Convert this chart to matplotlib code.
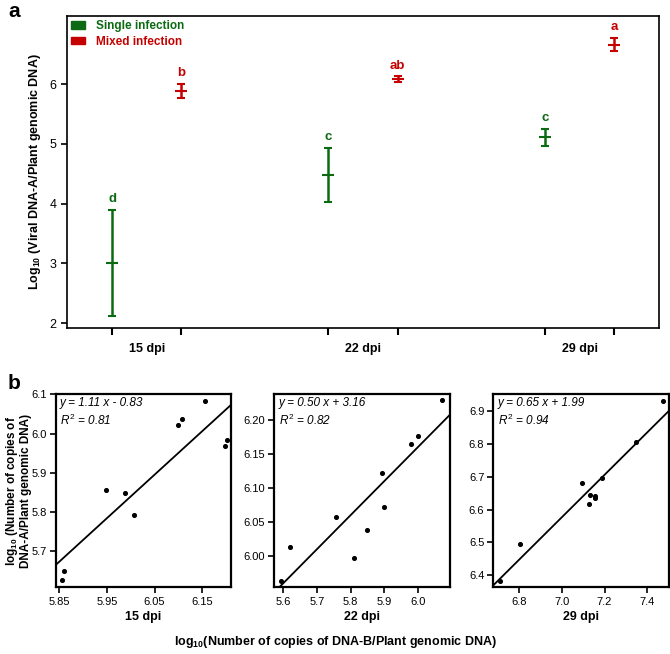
import numpy as np
import matplotlib.pyplot as plt
from matplotlib.patches import Patch

plt.rcParams['font.family'] = ['Liberation Sans', 'DejaVu Sans']
plt.rcParams['mathtext.fontset'] = 'custom'
plt.rcParams['mathtext.rm'] = 'Liberation Sans'
plt.rcParams['mathtext.it'] = 'Liberation Sans:italic'
plt.rcParams['mathtext.bf'] = 'Liberation Sans:bold'

# ---- panel a data ----
days = ['15 dpi', '22 dpi', '29 dpi']
single_mean = [3.00, 4.48, 5.11]
single_low = [2.11, 4.03, 4.97]
single_high = [3.89, 4.93, 5.25]
single_letters = ['d', 'c', 'c']
mixed_mean = [5.89, 6.08, 6.66]
mixed_low = [5.77, 6.03, 6.55]
mixed_high = [6.00, 6.13, 6.77]
mixed_letters = ['b', 'ab', 'a']

# ---- panel b data ----
b15_x = [5.856, 5.861, 5.948, 5.989, 6.006, 6.098, 6.108, 6.155, 6.197, 6.202]
b15_y = [5.628, 5.649, 5.857, 5.848, 5.792, 6.021, 6.037, 6.082, 5.968, 5.983]
b22_x = [5.593, 5.621, 5.756, 5.810, 5.848, 5.892, 5.898, 5.978, 6.000, 6.072]
b22_y = [5.963, 6.013, 6.057, 5.997, 6.038, 6.121, 6.072, 6.165, 6.176, 6.229]
b29_x = [6.708, 6.802, 7.093, 7.127, 7.134, 7.154, 7.154, 7.188, 7.345, 7.475]
b29_y = [6.383, 6.496, 6.681, 6.618, 6.643, 6.641, 6.636, 6.696, 6.806, 6.931]
equations = ['y = 1.11 x - 0.83', 'y = 0.50 x + 3.16', 'y = 0.65 x + 1.99']
r2_values = ['0.81', '0.82', '0.94']

GREEN = '#0b6a12'
RED = '#c40000'

fig = plt.figure(figsize=(6.7, 6.54), dpi=100)

# ---------------- panel a ----------------
ax = fig.add_axes([0.100, 0.4985, 0.8836, 0.4770])
centers = np.array([1.0, 2.0, 3.0])
off = 0.16
xs_single = centers - off
xs_mixed = centers + off

for xs, mean, low, high, letters, col in [
        (xs_single, single_mean, single_low, single_high, single_letters, GREEN),
        (xs_mixed, mixed_mean, mixed_low, mixed_high, mixed_letters, RED)]:
    mean = np.array(mean)
    err = [mean - np.array(low), np.array(high) - mean]
    ax.errorbar(xs, mean, yerr=err, fmt='_', color=col, ecolor=col,
                elinewidth=1.8, capsize=3, capthick=1.8, markersize=9,
                markeredgewidth=1.5)
    for x, h, lab in zip(xs, high, letters):
        ax.text(x, h + 0.18, lab, color=col, ha='center', va='center',
                fontsize=9.5, fontweight='bold')

ax.set_xlim(0.632, 3.367)
ax.set_ylim(1.917, 7.14)
ax.set_yticks([2, 3, 4, 5, 6])
ax.tick_params(axis='y', labelsize=9, length=4, width=1.2, direction='out')
ax.set_xticks(np.concatenate([xs_single, xs_mixed]))
ax.set_xticklabels([])
ax.tick_params(axis='x', which='major', length=5, width=1.5, direction='out')
for i, t in enumerate(ax.xaxis.get_major_ticks()):
    t.tick1line.set_color(GREEN if i < 3 else RED)
ax.set_xticks(centers, minor=True)
ax.set_xticklabels(days, minor=True, fontsize=9, fontweight='bold')
ax.tick_params(axis='x', which='minor', length=0, pad=11)
for s in ax.spines.values():
    s.set_linewidth(1.2)
ax.set_ylabel('Log$_{\\mathbf{10}}$ (Viral DNA-A/Plant genomic DNA)',
              fontsize=9, fontweight='bold', labelpad=5)

handles = [Patch(facecolor=GREEN, edgecolor=GREEN),
           Patch(facecolor=RED, edgecolor=RED)]
leg = ax.legend(handles, ['Single infection', 'Mixed infection'],
                loc='upper left', frameon=False,
                handlelength=1.2, handleheight=0.55, handletextpad=0.9,
                labelspacing=0.3, borderaxespad=0.15, borderpad=0.2,
                labelcolor=[GREEN, RED],
                prop={'weight': 'bold', 'size': 8.5})

fig.text(0.012, 0.982, 'a', fontsize=15, fontweight='bold', va='center')

# ---------------- panel b ----------------
b_lefts = [0.0831, 0.4094, 0.7363]
b_width = 0.2617
b_bottom = 0.1017
b_height = 0.2959
b_data = [(b15_x, b15_y), (b22_x, b22_y), (b29_x, b29_y)]
b_xlims = [(5.843, 6.210), (5.573, 6.094), (6.679, 7.500)]
b_ylims = [(5.608, 6.101), (5.953, 6.238), (6.362, 6.953)]
b_xticks = [[5.85, 5.95, 6.05, 6.15], [5.6, 5.7, 5.8, 5.9, 6.0],
            [6.8, 7.0, 7.2, 7.4]]
b_yticks = [[5.7, 5.8, 5.9, 6.0, 6.1], [6.00, 6.05, 6.10, 6.15, 6.20],
            [6.4, 6.5, 6.6, 6.7, 6.8, 6.9]]
b_xfmt = ['{:.2f}', '{:.1f}', '{:.1f}']
b_yfmt = ['{:.1f}', '{:.2f}', '{:.1f}']

for i in range(3):
    bx = fig.add_axes([b_lefts[i], b_bottom, b_width, b_height])
    x = np.array(b_data[i][0])
    y = np.array(b_data[i][1])
    bx.scatter(x, y, s=7, color='black', zorder=3)
    slope, icpt = np.polyfit(x, y, 1)
    xl = np.array(b_xlims[i])
    bx.plot(xl, slope * xl + icpt, color='black', lw=1.3)
    bx.set_xlim(*b_xlims[i])
    bx.set_ylim(*b_ylims[i])
    bx.set_xticks(b_xticks[i])
    bx.set_xticklabels([b_xfmt[i].format(v) for v in b_xticks[i]])
    bx.set_yticks(b_yticks[i])
    bx.set_yticklabels([b_yfmt[i].format(v) for v in b_yticks[i]])
    bx.tick_params(labelsize=8, length=4, width=1.2, pad=2.5,
                   direction='out')
    for s in bx.spines.values():
        s.set_linewidth(1.6)
    bx.text(0.025, 0.985, equations[i], transform=bx.transAxes,
            fontsize=8.5, style='italic', va='top', ha='left')
    bx.text(0.025, 0.905, '$R^2$ = ' + r2_values[i], transform=bx.transAxes,
            fontsize=8.5, style='italic', va='top', ha='left')
    fig.text(b_lefts[i] + b_width / 2, 0.057, days[i], ha='center',
             va='center', fontsize=9, fontweight='bold')

fig.text(0.027, b_bottom + b_height / 2,
         'log$_{\\mathbf{10}}$ (Number of copies of\nDNA-A/Plant genomic DNA)',
         rotation=90, ha='center', va='center', fontsize=8.5,
         fontweight='bold', linespacing=0.95)
fig.text(0.5, 0.018,
         'log$_{\\mathbf{10}}$(Number of copies of DNA-B/Plant genomic DNA)',
         ha='center', va='center', fontsize=9, fontweight='bold')
fig.text(0.012, 0.414, 'b', fontsize=15, fontweight='bold', va='center')

fig.savefig('out.png', dpi=100)
